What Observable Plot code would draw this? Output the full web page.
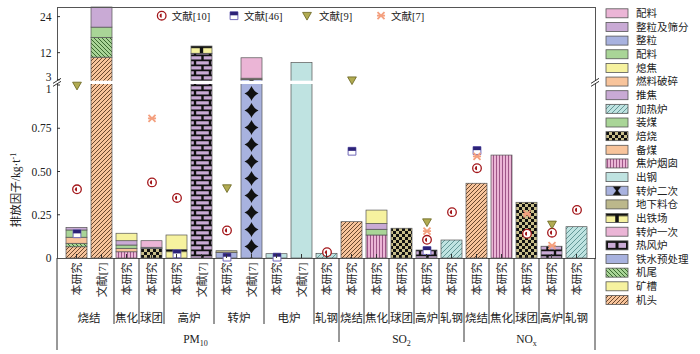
<!DOCTYPE html>
<html><head><meta charset="utf-8">
<script src="https://cdn.jsdelivr.net/npm/d3@7"></script>
<script src="https://cdn.jsdelivr.net/npm/@observablehq/plot@0.6"></script>
<style>
body{margin:0;background:#fff;}
#chart{width:700px;height:354px;}
svg text{font-family:"Liberation Serif","Noto Sans CJK SC",serif;}
</style></head><body><div id="chart"></div>
<script>
// ---------- data ----------
const barPollutant = ["PM10","PM10","PM10","PM10","PM10","PM10","PM10","PM10","PM10","PM10","PM10","SO2","SO2","SO2","SO2","SO2","NOx","NOx","NOx","NOx","NOx"];
const barProcess = ["烧结","烧结","焦化","球团","高炉","高炉","转炉","转炉","电炉","电炉","轧钢","烧结","焦化","球团","高炉","轧钢","烧结","焦化","球团","高炉","轧钢"];
const barSource = ["本研究","文献[7]","本研究","本研究","本研究","文献[7]","本研究","文献[7]","本研究","文献[7]","本研究","本研究","本研究","本研究","本研究","本研究","本研究","本研究","本研究","本研究","本研究"];
const pollutantNames = ["PM10","SO2","NOx"];
const pollutantMain = ["PM","SO","NO"];
const pollutantSub = ["10","2","x"];

// stacked segments (bar index, emission link, value in kg/t)
const segBar = [0,0,0,0,0, 1,1,1,1, 2,2,2,2,2, 3,3,3, 4,4, 5,5, 6,6, 7,7,7, 8, 9, 10, 11, 12,12,12,12, 13, 14, 15, 16, 17, 18, 19, 20];
const segPart = ["机头","机尾","燃料破碎","配料g","整粒及筛分", "机头","机尾","配料g","整粒及筛分", "焦炉烟囱","备煤","装煤","推焦","熄焦", "焙烧","整粒","配料p", "出铁场","矿槽", "热风炉","出铁场", "铁水预处理","地下料仓", "转炉二次","地下料仓","转炉一次", "出钢","出钢","加热炉","机头", "焦炉烟囱","装煤","推焦","熄焦", "焙烧","热风炉","加热炉","机头","焦炉烟囱","焙烧","热风炉","加热炉"];
const segValue = [0.065,0.020,0.035,0.042,0.015, 10.5,6.6,3.4,6.7, 0.036,0.020,0.019,0.025,0.043, 0.055,0.007,0.038, 0.050,0.083, 11.8,2.4, 0.032,0.010, 3.1,0.4,6.8, 0.025,8.7,0.027,0.21, 0.133,0.033,0.034,0.077, 0.172,0.046,0.104,0.432,0.595,0.322,0.068,0.181];

// literature values
const ref10Bar = [0,3,4,6,10,14,15,16,18,19,20];
const ref10Val = [0.40,0.44,0.35,0.162,0.036,0.108,0.268,0.522,0.143,0.149,0.281];
const ref46Bar = [0,4,6,8,11,14,16];
const ref46Val = [0.143,0.027,0.008,0.008,0.62,0.046,0.624];
const ref9Bar = [0,6,11,14,19];
const ref9Val = [1.0,0.407,3.0,0.21,0.197];
const ref7Bar = [3,14,16,18,19];
const ref7Val = [0.81,0.158,0.59,0.258,0.075];
const refLabels = ["文献[10]","文献[46]","文献[9]","文献[7]"];

// legend
const legendKeys = ["配料p","整粒及筛分","整粒","配料g","熄焦","燃料破碎","推焦","加热炉","装煤","焙烧","备煤","焦炉烟囱","出钢","转炉二次","地下料仓","出铁场","转炉一次","热风炉","铁水预处理","机尾","矿槽","机头"];
const legendLabels = legendKeys.map(k => k.replace(/[pg]$/, ""));

// y axis ticks
const yTicksMain = [0,0.25,0.5,0.75,12,24];
const yBreakLow = 1, yBreakHigh = 3;

// ---------- styles ----------
const partFill = {"配料p":"#ebb5d6","整粒及筛分":"#c9aad5","整粒":"#a8b2df","配料g":"#a9d597","熄焦":"#f6f29f","燃料破碎":"#f8c49b","推焦":"#c9aad5","加热炉":"url(#pHeat)","装煤":"#a9d597","焙烧":"url(#pChecker)","备煤":"#f8c49b","焦炉烟囱":"url(#pStripe)","出钢":"#bfe3e1","转炉二次":"url(#pDiamond)","地下料仓":"#bcb88b","出铁场":"url(#pCast)","转炉一次":"#ebb5d6","热风炉":"url(#pBrick)","铁水预处理":"#a8b2df","机尾":"url(#pTail)","矿槽":"#f6f29f","机头":"url(#pHead)"};
const legendFill = Object.assign({}, partFill, {"转炉二次":"url(#pDiamondL)","热风炉":"url(#pBrickL)"});

const symLeftHalf = {draw(ctx, size){const r=Math.sqrt(size/Math.PI); ctx.moveTo(0,-r); ctx.arc(0,0,r,-Math.PI/2,Math.PI/2,true); ctx.closePath();}};
const symSquare = {draw(ctx,size){const s=Math.sqrt(size)/2; ctx.rect(-s,-s,2*s,2*s);}};
const symTopHalf = {draw(ctx,size){const s=Math.sqrt(size)/2; ctx.rect(-s,-s,2*s,s*0.9);}};
const symTriDown = {draw(ctx,size){const r=Math.sqrt(size/Math.PI); ctx.moveTo(-r,-0.75*r); ctx.lineTo(r,-0.75*r); ctx.lineTo(0,r); ctx.closePath();}};
const symStar = {draw(ctx,size){const r=Math.sqrt(size/Math.PI); const a=r*0.78; ctx.moveTo(-a,-a); ctx.lineTo(a,a); ctx.moveTo(a,-a); ctx.lineTo(-a,a); ctx.moveTo(-r*0.9,0); ctx.lineTo(r*0.9,0);}};

const C10 = "#a3171b", C46 = "#2c2278", C46b = "#7168b8", C9 = "#b1ab52", C9b = "#66621c", C7 = "#f4a07f";

// ---------- build ----------
const barIds = barProcess.map((_, i) => `b${i}`);
const segs = segBar.map((b, i) => ({bar: barIds[b], part: segPart[i], value: segValue[i]}));
const pts = (bars, vals) => bars.map((b, i) => ({bar: barIds[b], value: vals[i]}));
const fmtY = d => d === 0 ? "0" : d < 1 ? d.toFixed(2) : String(d);

const W = 700, H = 354, ML = 57, MR = 105, MT = 7, MB = 96;
const yBottom = H - MB;

const chart = Plot.plot({
  width: W, height: H,
  marginLeft: ML, marginRight: MR, marginTop: MT, marginBottom: MB,
  style: {fontFamily: '"Liberation Serif","Noto Sans CJK SC",serif', fontSize: "11px", background: "white", color: "#222"},
  x: {domain: barIds, paddingInner: 0.18, paddingOuter: 0.1, axis: null},
  y: {type: "linear", domain: [0, yBreakLow, yBreakHigh, 27.2], range: [yBottom, 85, 79.7, MT], axis: null},
  color: {type: "identity"},
  marks: [
    Plot.barY(segs, {x: "bar", y: "value", fill: d => partFill[d.part], stroke: "#555", strokeWidth: 0.7}),
    Plot.frame({stroke: "#555", strokeWidth: 1}),
    Plot.rect([0], {y1: () => yBreakLow, y2: () => yBreakHigh, fill: "white", insetTop: 1, insetBottom: 1, insetLeft: -3, insetRight: -3}),
    Plot.axisY({ticks: yTicksMain, tickFormat: fmtY, tickSize: 0, tickPadding: 6, label: null, fontSize: 11.5}),
    Plot.axisY({ticks: [yBreakHigh], tickFormat: fmtY, tickSize: 0, tickPadding: 6, label: null, dy: -3, fontSize: 11.5}),
    Plot.axisY({ticks: [yBreakLow], tickFormat: fmtY, tickSize: 0, tickPadding: 6, label: null, dy: 4, fontSize: 11.5}),
    Plot.axisX({tickRotate: -90, tickSize: 0, tickPadding: 4, label: null, fontSize: 11, tickFormat: d => barSource[barIds.indexOf(d)]}),
    Plot.dot(pts(ref10Bar, ref10Val), {x: "bar", y: "value", r: 4.3, fill: "white", stroke: C10, strokeWidth: 1.3}),
    Plot.dot(pts(ref10Bar, ref10Val), {x: "bar", y: "value", r: 2.1, symbol: symLeftHalf, fill: C10}),
    Plot.dot(pts(ref46Bar, ref46Val), {x: "bar", y: "value", r: 4.4, symbol: symSquare, fill: "white", stroke: C46b, strokeWidth: 1}),
    Plot.dot(pts(ref46Bar, ref46Val), {x: "bar", y: "value", r: 4.4, symbol: symTopHalf, fill: C46}),
    Plot.dot(pts(ref9Bar, ref9Val), {x: "bar", y: "value", r: 4.4, symbol: symTriDown, fill: C9, stroke: C9b, strokeWidth: 0.8}),
    Plot.dot(pts(ref7Bar, ref7Val), {x: "bar", y: "value", r: 4.5, symbol: symStar, fill: "none", stroke: C7, strokeWidth: 1.8})
  ]
});
document.getElementById("chart").append(chart);

// ---------- decorations via the plot's scales ----------
const svg = d3.select(chart);
const xs = chart.scale("x"), ys = chart.scale("y");
const bw = xs.bandwidth, step = xs.step;
const cx = i => xs.apply(barIds[i]) + bw / 2;
const [xL, xR] = xs.range;

// patterns
const defs = svg.insert("defs", ":first-child");
function pat(id, w, h, extra) {
  const p = defs.append("pattern").attr("id", id).attr("patternUnits", "userSpaceOnUse").attr("width", w).attr("height", h);
  if (extra) for (const k in extra) p.attr(k, extra[k]);
  return p;
}
let p;
p = pat("pHead", 4, 4); p.append("rect").attr("width", 4).attr("height", 4).attr("fill", "#f8c49b");
p.append("path").attr("d", "M-1,1 l2,-2 M0,4 l4,-4 M3,5 l2,-2").attr("stroke", "#5a3b22").attr("stroke-width", 0.9);
p = pat("pTail", 4, 4); p.append("rect").attr("width", 4).attr("height", 4).attr("fill", "#a9d597");
p.append("path").attr("d", "M-1,3 l2,2 M0,0 l4,4 M3,-1 l2,2").attr("stroke", "#2f5e25").attr("stroke-width", 0.9);
p = pat("pHeat", 5, 5); p.append("rect").attr("width", 5).attr("height", 5).attr("fill", "#bfe3e1");
p.append("path").attr("d", "M-1,1 l2,-2 M0,5 l5,-5 M4,6 l2,-2").attr("stroke", "#3c7777").attr("stroke-width", 0.7);
p = pat("pChecker", 6, 6); p.append("rect").attr("width", 6).attr("height", 6).attr("fill", "#c9bf8b");
p.append("path").attr("d", "M0,0h3v3h-3z M3,3h3v3h-3z").attr("fill", "#111");
p = pat("pStripe", 3, 3); p.append("rect").attr("width", 3).attr("height", 3).attr("fill", "#ebb5d6");
p.append("path").attr("d", "M1.5,0v3").attr("stroke", "#8a3d74").attr("stroke-width", 0.8);
p = pat("pBrick", 15, 10); p.append("rect").attr("width", 15).attr("height", 10).attr("fill", "#111");
p.append("path").attr("d", "M1.2,1.2h12.6v3.2h-12.6z M-6.3,6.2h12.6v3.2h-12.6z M8.7,6.2h12.6v3.2h-12.6z").attr("fill", "#c9aad5");
p = pat("pBrickL", 22, 9, {x: 606, y: 0}); p.append("rect").attr("width", 22).attr("height", 9).attr("fill", "#111");
p.append("path").attr("d", "M2,2h7.5v5h-7.5z M12.5,2h7.5v5h-7.5z").attr("fill", "#c9aad5");
// diamonds aligned to the bar bands
p = pat("pDiamond", step, 17, {x: cx(0) - step / 2, y: 0});
p.append("rect").attr("width", step).attr("height", 17).attr("fill", "#a8b2df");
p.append("path").attr("transform", `translate(${step / 2},8.5)`).attr("d", "M0,-7.5 Q2.2,-2.2 7,0 Q2.2,2.2 0,7.5 Q-2.2,2.2 -7,0 Q-2.2,-2.2 0,-7.5Z").attr("fill", "#111");
p = defs.append("pattern").attr("id", "pDiamondL").attr("width", 1).attr("height", 1).attr("patternContentUnits", "objectBoundingBox");
p.append("rect").attr("width", 1).attr("height", 1).attr("fill", "#a8b2df");
p.append("path").attr("d", "M0.3,0 L0.7,0 L0.54,0.5 L0.7,1 L0.3,1 L0.46,0.5Z").attr("fill", "#111");
p = defs.append("pattern").attr("id", "pCast").attr("width", 1).attr("height", 1).attr("patternContentUnits", "objectBoundingBox");
p.append("rect").attr("width", 1).attr("height", 1).attr("fill", "#f6f29f");
p.append("path").attr("d", "M0,0H1V0.28H0Z M0.42,0.28H0.58V1H0.42Z").attr("fill", "#111");

const g = svg.append("g").attr("fill", "none").attr("stroke", "#333").attr("stroke-width", 1);
// y ticks (inward)
for (const t of [...yTicksMain.slice(1), yBreakLow, yBreakHigh]) {
  g.append("line").attr("x1", xL).attr("x2", xL + 3).attr("y1", ys.apply(t)).attr("y2", ys.apply(t));
}
// x ticks at bar centers (inward)
barIds.forEach((_, i) => g.append("line").attr("x1", cx(i)).attr("x2", cx(i)).attr("y1", yBottom).attr("y2", yBottom - 4));
// break marks
const yb = (ys.apply(yBreakLow) + ys.apply(yBreakHigh)) / 2;
for (const xe of [xL, xR]) {
  g.append("path").attr("d", `M${xe - 4},${yb + 4} L${xe + 4},${yb - 1} M${xe - 4},${yb + 1} L${xe + 4},${yb - 4}`).attr("stroke", "#333");
}

// group and pollutant separators / labels
const groups = [];
barIds.forEach((_, i) => {
  const key = barPollutant[i] + "|" + barProcess[i];
  const last = groups[groups.length - 1];
  if (last && last.key === key) last.end = i; else groups.push({key, start: i, end: i, name: barProcess[i], pol: barPollutant[i]});
});
const lab = svg.append("g").attr("fill", "#222").attr("font-size", 11.5).attr("text-anchor", "middle");
groups.forEach((gr, k) => {
  lab.append("text").attr("x", (cx(gr.start) + cx(gr.end)) / 2).attr("y", 322).text(gr.name);
  if (k > 0) {
    const xb = (cx(gr.start - 1) + cx(gr.start)) / 2;
    const polChange = barPollutant[gr.start - 1] !== barPollutant[gr.start];
    g.append("line").attr("x1", xb).attr("x2", xb).attr("y1", yBottom).attr("y2", polChange ? 342 : 324);
  }
});
for (const xe of [xL, xR]) g.append("line").attr("x1", xe).attr("x2", xe).attr("y1", yBottom).attr("y2", 350);
pollutantNames.forEach((pn, k) => {
  const idx = barPollutant.map((v, i) => v === pn ? i : -1).filter(i => i >= 0);
  const t = lab.append("text").attr("x", (cx(idx[0]) + cx(idx[idx.length - 1])) / 2 - (k === 0 ? 6 : 0)).attr("y", 343);
  t.append("tspan").text(pollutantMain[k]);
  t.append("tspan").attr("font-size", 8).attr("dy", 2.5).text(pollutantSub[k]);
});

// y title
const yt = svg.append("text").attr("transform", "translate(20,190) rotate(-90)").attr("text-anchor", "middle").attr("font-size", 11.5).attr("fill", "#222");
yt.append("tspan").text("排放因子/kg·t");
yt.append("tspan").attr("font-size", 8).attr("dy", -4).text("-1");

// right legend
const lg = svg.append("g").attr("font-size", 10.5).attr("fill", "#222").attr("text-anchor", "start");
legendKeys.forEach((k, i) => {
  const yc = 13.3 + i * 13.65;
  if (k === "热风炉") defs.select("#pBrickL").attr("y", yc - 4.5);
  lg.append("rect").attr("x", 606).attr("y", yc - 4.5).attr("width", 22).attr("height", 9).attr("fill", legendFill[k]).attr("stroke", "#555").attr("stroke-width", 0.8);
  lg.append("text").attr("x", 636).attr("y", yc + 3.8).text(legendLabels[i]);
});

// top legend (reference markers)
const tl = svg.append("g").attr("font-size", 10.5).attr("fill", "#222").attr("text-anchor", "start");
const sym = (type, r) => d3.symbol(type, Math.PI * r * r)();
const topX = [161.7, 234, 307, 381];
const ty = 15.7;
tl.append("path").attr("transform", `translate(${topX[0]},${ty})`).attr("d", sym(d3.symbolCircle, 4.3)).attr("fill", "white").attr("stroke", C10).attr("stroke-width", 1.3);
tl.append("path").attr("transform", `translate(${topX[0]},${ty})`).attr("d", sym(symLeftHalf, 2.1)).attr("fill", C10);
tl.append("path").attr("transform", `translate(${topX[1]},${ty})`).attr("d", sym(symSquare, 4.4)).attr("fill", "white").attr("stroke", C46b);
tl.append("path").attr("transform", `translate(${topX[1]},${ty})`).attr("d", sym(symTopHalf, 4.4)).attr("fill", C46);
tl.append("path").attr("transform", `translate(${topX[2]},${ty})`).attr("d", sym(symTriDown, 4.4)).attr("fill", C9).attr("stroke", C9b).attr("stroke-width", 0.8);
tl.append("path").attr("transform", `translate(${topX[3]},${ty})`).attr("d", sym(symStar, 4.5)).attr("fill", "none").attr("stroke", C7).attr("stroke-width", 1.8);
refLabels.forEach((t, i) => tl.append("text").attr("x", topX[i] + (i === 2 ? 12 : 10)).attr("y", ty + 3.8).text(t));
</script>
</body></html>
